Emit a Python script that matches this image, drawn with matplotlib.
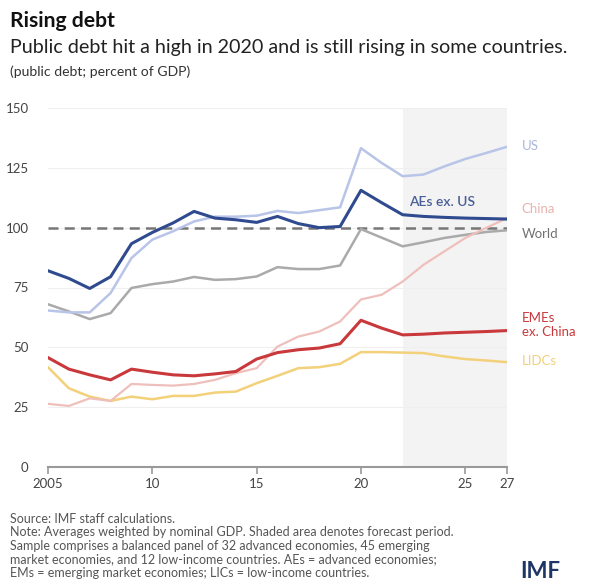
import matplotlib
matplotlib.use("Agg")
import matplotlib.pyplot as plt

plt.rcParams['font.family'] = ['Lato', 'DejaVu Sans']

years = list(range(2005, 2028))
aes_ex_us = [82, 78.8, 74.6, 79.5, 93.3, 98, 102, 106.8, 104, 103.3, 102.2, 104.7, 101.7, 100, 100.5,
             115.6, 110.4, 105.4, 104.7, 104.3, 104, 103.8, 103.6]
us = [65.4, 64.6, 64.6, 72.7, 87.3, 95, 98.5, 102.6, 104.6, 104.6, 105, 107, 106.1, 107.3, 108.5,
      133.2, 127, 121.5, 122.2, 125.6, 128.7, 131.2, 133.8]
world = [68, 65, 61.8, 64.3, 74.8, 76.4, 77.5, 79.4, 78.2, 78.5, 79.6, 83.5, 82.7, 82.7, 84.2,
         99.4, 95.8, 92.2, 93.9, 95.7, 97, 98.2, 98.9]
china = [26.4, 25.5, 28.7, 27.6, 34.7, 34.3, 34, 34.7, 36.4, 39.2, 41.3, 50.3, 54.5, 56.6, 60.8,
         70, 72, 77.5, 84.5, 90.1, 95.7, 99.9, 104]
emes_ex_china = [45.7, 40.9, 38.5, 36.4, 40.9, 39.6, 38.5, 38.1, 38.9, 39.9, 45.1, 47.8, 49, 49.7, 51.5,
                 61.3, 58, 55.2, 55.5, 56, 56.3, 56.6, 57]
lidcs = [41.7, 32.9, 29.4, 27.6, 29.4, 28.3, 29.7, 29.7, 31.1, 31.5, 35, 38.1, 41.3, 41.7, 43.1,
         48, 48, 47.8, 47.6, 46.2, 45.1, 44.5, 43.8]

forecast_start = 2022
xticks = [2005, 2010, 2015, 2020, 2025, 2027]
xticklabels = ["2005", "10", "15", "20", "25", "27"]
yticks = [0, 25, 50, 75, 100, 125, 150]

fig = plt.figure(figsize=(6.05, 5.83), dpi=100)
ax = fig.add_axes([48/605, 1-467/583, (507-48)/605, (467-108)/583])

ax.axvspan(forecast_start, 2027, color="#f3f3f3", zorder=0, lw=0)
for y in yticks[1:]:
    ax.axhline(y, color="#efefef", lw=0.8, zorder=1)
ax.axhline(100, color="#777777", lw=1.8, ls=(0, (4, 2.5)), zorder=2)

ax.plot(years, world, color="#aaaaaa", lw=1.8, zorder=3)
ax.plot(years, us, color="#b8c4e8", lw=1.8, zorder=3)
ax.plot(years, lidcs, color="#f3d07a", lw=1.8, zorder=3)
ax.plot(years, china, color="#efbfbb", lw=1.6, zorder=3)
ax.plot(years, emes_ex_china, color="#c9383b", lw=2.2, zorder=4)
ax.plot(years, aes_ex_us, color="#2f4a8e", lw=2.2, zorder=5)

ax.set_xlim(2005, 2027)
ax.set_ylim(0, 150)
ax.set_xticks(xticks)
ax.set_xticklabels(xticklabels)
ax.set_yticks(yticks)
for s in ["top", "right", "left"]:
    ax.spines[s].set_visible(False)
ax.spines["bottom"].set_color("#999999")
ax.spines["bottom"].set_linewidth(1.5)
ax.tick_params(axis="x", length=5, width=1.2, color="#999999", labelsize=9.5, labelcolor="#444444", pad=3)
ax.tick_params(axis="y", length=0, labelsize=9.5, labelcolor="#444444", pad=14)

lab = dict(fontsize=9.5, clip_on=False, va="center", ha="left")
ax.text(2027.7, 134.3, "US", color="#a9b8d9", **lab)
ax.text(2027.7, 108, "China", color="#e8b4b0", **lab)
ax.text(2027.7, 97.5, "World", color="#707070", **lab)
ax.text(2027.7, 59.2, "EMEs\nex. China", color="#c9383b", linespacing=1.2, **lab)
ax.text(2027.7, 44.3, "LIDCs", color="#f3d07a", **lab)
ax.text(2023.9, 110.8, "AEs ex. US", color="#4a5f98", fontsize=10, fontweight="semibold",
        ha="center", va="center")

fig.text(10/605, 1-21/583, "Rising debt", fontsize=15.2, fontweight="bold", color="#111111", va="center")
fig.text(10/605, 1-48/583, "Public debt hit a high in 2020 and is still rising in some countries.",
         fontsize=14.2, color="#222222", va="center")
fig.text(10/605, 1-72/583, "(public debt; percent of GDP)", fontsize=10.1, color="#333333", va="center")

footer = ("Source: IMF staff calculations.\n"
          "Note: Averages weighted by nominal GDP. Shaded area denotes forecast period.\n"
          "Sample comprises a balanced panel of 32 advanced economies, 45 emerging\n"
          "market economies, and 12 low-income countries. AEs = advanced economies;\n"
          "EMs = emerging market economies; LICs = low-income countries.")
fig.text(10/605, 1-513/583, footer, fontsize=9.0, color="#555555", va="top", linespacing=1.15)
fig.text(520/605, 1-572/583, "IMF", fontsize=16, fontweight="bold", color="#1f3566", va="center")

fig.savefig("out.png", dpi=100)
